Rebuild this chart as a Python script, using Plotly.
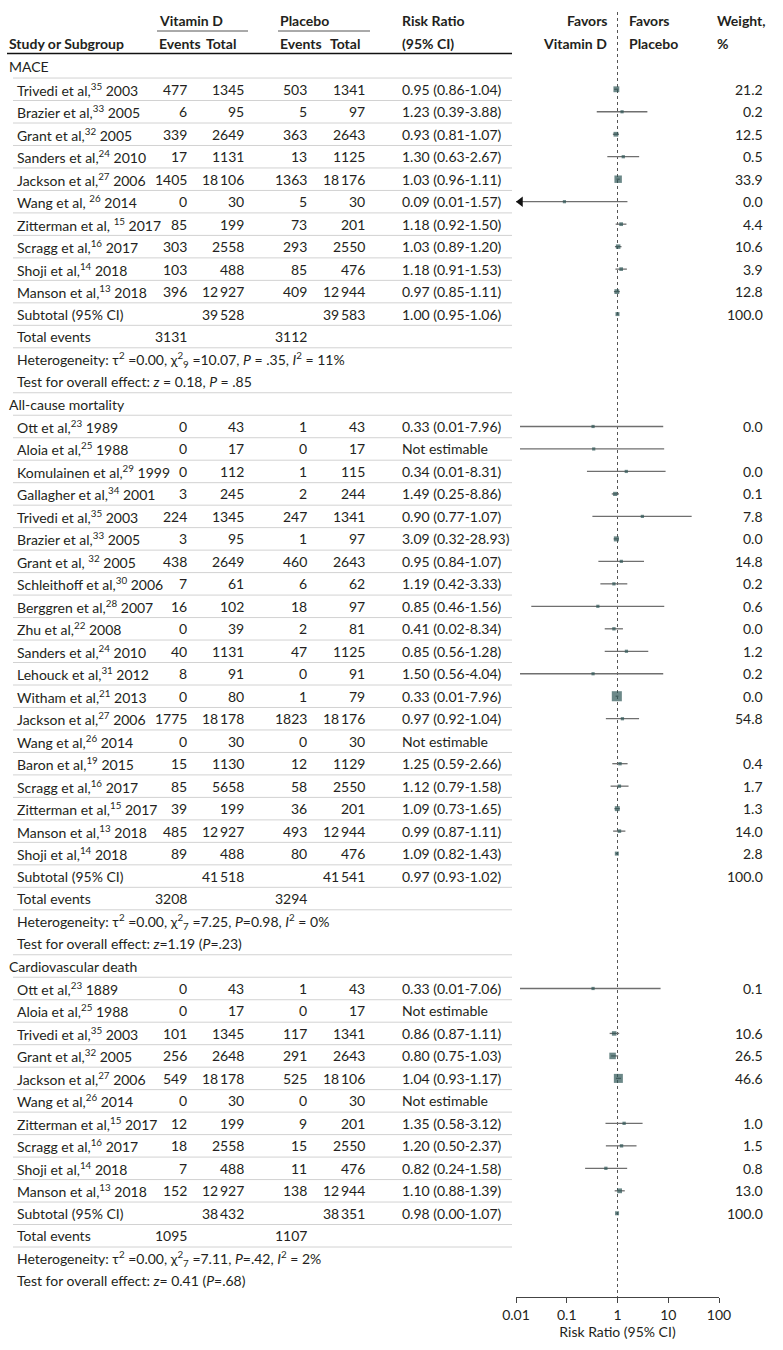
import plotly.graph_objects as go
import math

# ---------------- data ----------------
section_names = ["MACE", "All-cause mortality", "Cardiovascular death"]

# MACE
mace_studies = ["Trivedi et al,<sup>35</sup> 2003", "Brazier et al,<sup>33</sup> 2005",
                "Grant et al,<sup>32</sup> 2005", "Sanders et al,<sup>24</sup> 2010",
                "Jackson et al,<sup>27</sup> 2006", "Wang et al, <sup>26</sup> 2014",
                "Zitterman et al, <sup>15</sup> 2017", "Scragg et al,<sup>16</sup> 2017",
                "Shoji et al,<sup>14</sup> 2018", "Manson et al,<sup>13</sup> 2018"]
mace_vd_events = [477, 6, 339, 17, 1405, 0, 85, 303, 103, 396]
mace_vd_totals = [1345, 95, 2649, 1131, 18106, 30, 199, 2558, 488, 12927]
mace_pl_events = [503, 5, 363, 13, 1363, 5, 73, 293, 85, 409]
mace_pl_totals = [1341, 97, 2643, 1125, 18176, 30, 201, 2550, 476, 12944]
mace_rr_text = ["0.95 (0.86-1.04)", "1.23 (0.39-3.88)", "0.93 (0.81-1.07)", "1.30 (0.63-2.67)",
                "1.03 (0.96-1.11)", "0.09 (0.01-1.57)", "1.18 (0.92-1.50)", "1.03 (0.89-1.20)",
                "1.18 (0.91-1.53)", "0.97 (0.85-1.11)"]
mace_weights = ["21.2", "0.2", "12.5", "0.5", "33.9", "0.0", "4.4", "10.6", "3.9", "12.8"]
mace_subtotal = [39528, 39583, "1.00 (0.95-1.06)", "100.0"]
mace_total_events = [3131, 3112]
mace_heterogeneity = ("Heterogeneity: τ<sup>2</sup> =0.00, χ<sup>2</sup><sub>9</sub> =10.07, "
                      "<i>P</i> = .35, <i>I</i><sup>2</sup> = 11%")
mace_overall = "Test for overall effect: <i>z</i> = 0.18, <i>P</i> = .85"
# markers as drawn in the figure (study rows + subtotal row)
mace_plot_rr = [0.95, 1.23, 0.93, 1.30, 1.03, 0.09, 1.18, 1.03, 1.18, 0.97, 1.00]
mace_plot_lo = [0.86, 0.39, 0.81, 0.63, 0.96, 0.01, 0.92, 0.89, 0.91, 0.85, 0.95]
mace_plot_hi = [1.04, 3.88, 1.07, 2.67, 1.11, 1.57, 1.50, 1.20, 1.53, 1.11, 1.06]
mace_plot_w = [21.2, 0.2, 12.5, 0.5, 33.9, 0.0, 4.4, 10.6, 3.9, 12.8, 100.0]

# All-cause mortality
acm_studies = ["Ott et al,<sup>23</sup> 1989", "Aloia et al,<sup>25</sup> 1988",
               "Komulainen et al,<sup>29</sup> 1999", "Gallagher et al,<sup>34</sup> 2001",
               "Trivedi et al,<sup>35</sup> 2003", "Brazier et al,<sup>33</sup> 2005",
               "Grant et al, <sup>32</sup> 2005", "Schleithoff et al,<sup>30</sup> 2006",
               "Berggren et al,<sup>28</sup> 2007", "Zhu et al,<sup>22</sup> 2008",
               "Sanders et al,<sup>24</sup> 2010", "Lehouck et al,<sup>31</sup> 2012",
               "Witham et al,<sup>21</sup> 2013", "Jackson et al,<sup>27</sup> 2006",
               "Wang et al,<sup>26</sup> 2014", "Baron et al,<sup>19</sup> 2015",
               "Scragg et al,<sup>16</sup> 2017", "Zitterman et al,<sup>15</sup> 2017",
               "Manson et al,<sup>13</sup> 2018", "Shoji et al,<sup>14</sup> 2018"]
acm_vd_events = [0, 0, 0, 3, 224, 3, 438, 7, 16, 0, 40, 8, 0, 1775, 0, 15, 85, 39, 485, 89]
acm_vd_totals = [43, 17, 112, 245, 1345, 95, 2649, 61, 102, 39, 1131, 91, 80, 18178, 30, 1130,
                 5658, 199, 12927, 488]
acm_pl_events = [1, 0, 1, 2, 247, 1, 460, 6, 18, 2, 47, 0, 1, 1823, 0, 12, 58, 36, 493, 80]
acm_pl_totals = [43, 17, 115, 244, 1341, 97, 2643, 62, 97, 81, 1125, 91, 79, 18176, 30, 1129,
                 2550, 201, 12944, 476]
acm_rr_text = ["0.33 (0.01-7.96)", "Not estimable", "0.34 (0.01-8.31)", "1.49 (0.25-8.86)",
               "0.90 (0.77-1.07)", "3.09 (0.32-28.93)", "0.95 (0.84-1.07)", "1.19 (0.42-3.33)",
               "0.85 (0.46-1.56)", "0.41 (0.02-8.34)", "0.85 (0.56-1.28)", "1.50 (0.56-4.04)",
               "0.33 (0.01-7.96)", "0.97 (0.92-1.04)", "Not estimable", "1.25 (0.59-2.66)",
               "1.12 (0.79-1.58)", "1.09 (0.73-1.65)", "0.99 (0.87-1.11)", "1.09 (0.82-1.43)"]
acm_weights = ["0.0", "", "0.0", "0.1", "7.8", "0.0", "14.8", "0.2", "0.6", "0.0", "1.2", "0.2",
               "0.0", "54.8", "", "0.4", "1.7", "1.3", "14.0", "2.8"]
acm_subtotal = [41518, 41541, "0.97 (0.93-1.02)", "100.0"]
acm_total_events = [3208, 3294]
acm_heterogeneity = ("Heterogeneity: τ<sup>2</sup> =0.00, χ<sup>2</sup><sub>7</sub> =7.25, "
                     "<i>P</i>=0.98, <i>I</i><sup>2</sup> = 0%")
acm_overall = "Test for overall effect: <i>z</i>=1.19 (<i>P</i>=.23)"
acm_plot_rr = [0.33, 0.34, 1.49, 0.90, 3.09, 0.95, 1.19, 0.85, 0.41, 0.85, 1.50, 0.33, 0.97,
               1.25, None, 1.12, 1.09, 0.99, 1.09, 0.97, None]
acm_plot_lo = [0.012, 0.012, 0.25, 0.77, 0.32, 0.84, 0.42, 0.46, 0.02, 0.56, 0.56, 0.012, 0.92,
               0.59, None, 0.79, 0.73, 0.87, 0.82, 0.93, None]
acm_plot_hi = [7.96, 8.31, 8.86, 1.07, 28.93, 1.07, 3.33, 1.56, 8.34, 1.28, 4.04, 7.96, 1.04,
               2.66, None, 1.58, 1.65, 1.11, 1.43, 1.02, None]
acm_plot_w = [0.0, 0.0, 0.1, 7.8, 0.0, 14.8, 0.2, 0.6, 0.0, 1.2, 0.2, 0.0, 54.8, 0.4, None,
              1.7, 1.3, 14.0, 2.8, 100.0, None]

# Cardiovascular death
cvd_studies = ["Ott et al,<sup>23</sup> 1889", "Aloia et al,<sup>25</sup> 1988",
               "Trivedi et al,<sup>35</sup> 2003", "Grant et al,<sup>32</sup> 2005",
               "Jackson et al,<sup>27</sup> 2006", "Wang et al,<sup>26</sup> 2014",
               "Zitterman et al,<sup>15</sup> 2017", "Scragg et al,<sup>16</sup> 2017",
               "Shoji et al,<sup>14</sup> 2018", "Manson et al,<sup>13</sup> 2018"]
cvd_vd_events = [0, 0, 101, 256, 549, 0, 12, 18, 7, 152]
cvd_vd_totals = [43, 17, 1345, 2648, 18178, 30, 199, 2558, 488, 12927]
cvd_pl_events = [1, 0, 117, 291, 525, 0, 9, 15, 11, 138]
cvd_pl_totals = [43, 17, 1341, 2643, 18106, 30, 201, 2550, 476, 12944]
cvd_rr_text = ["0.33 (0.01-7.06)", "Not estimable", "0.86 (0.87-1.11)", "0.80 (0.75-1.03)",
               "1.04 (0.93-1.17)", "Not estimable", "1.35 (0.58-3.12)", "1.20 (0.50-2.37)",
               "0.82 (0.24-1.58)", "1.10 (0.88-1.39)"]
cvd_weights = ["0.1", "", "10.6", "26.5", "46.6", "", "1.0", "1.5", "0.8", "13.0"]
cvd_subtotal = [38432, 38351, "0.98 (0.00-1.07)", "100.0"]
cvd_total_events = [1095, 1107]
cvd_heterogeneity = ("Heterogeneity: τ<sup>2</sup> =0.00, χ<sup>2</sup><sub>7</sub> =7.11, "
                     "<i>P</i>=.42, <i>I</i><sup>2</sup> = 2%")
cvd_overall = "Test for overall effect: <i>z</i>= 0.41 (<i>P</i>=.68)"
cvd_plot_rr = [0.33, None, 0.86, 0.80, 1.04, None, 1.35, 1.20, 0.59, 1.10, 0.98]
cvd_plot_lo = [0.012, None, 0.70, 0.75, 0.93, None, 0.58, 0.59, 0.23, 0.88, 0.95]
cvd_plot_hi = [7.06, None, 1.08, 1.03, 1.17, None, 3.12, 2.37, 1.55, 1.39, 1.02]
cvd_plot_w = [0.1, None, 10.6, 26.5, 46.6, None, 1.0, 1.5, 0.8, 13.0, 100.0]

tick_vals = [0.01, 0.1, 1, 10, 100]
tick_text = ["0.01", "0.1", "1", "10", "100"]

# ---------------- layout helpers ----------------
W, H = 783, 1350
ROW0, ROW_H = 66.8, 22.48
FONT = "Lato, Liberation Sans, Arial, sans-serif"
TXT = "#231f20"
FS = 14
AX_L, AX_R, AX_Y = 516, 719, 1297
XMIN, XMAX = -2, 2


def k_of(px):
    return (px - ROW0) / ROW_H


def xp(px):
    return px / W


def fmt(n):
    s = str(n)
    if n >= 10000:
        s = s[:-3] + "\u2009" + s[-3:]
    return s


def box_size(w):
    return 4 if w >= 100 else 3.2 + 0.125 * w


annotations = []
shapes = []


def txt(x_px, k, s, anchor="left", bold=False):
    annotations.append(dict(
        x=xp(x_px), xref="paper", y=k, yref="y", xanchor=anchor, yanchor="middle",
        text=("<b>%s</b>" % s) if bold else s, showarrow=False,
        font=dict(family=FONT, size=FS, color=TXT)))


def hline(k, x0=13, x1=512, color="#d2d2d2", width=1):
    shapes.append(dict(type="line", xref="paper", yref="y", x0=xp(x0), x1=xp(x1),
                       y0=k, y1=k, line=dict(color=color, width=width)))


# header
txt(157, k_of(20), "Vitamin D", bold=True)
txt(278, k_of(20), "Placebo", bold=True)
hline(k_of(31), 157, 248, color="#555", width=1)
hline(k_of(31), 278, 370, color="#555", width=1)
txt(7, k_of(43), "Study or Subgroup", bold=True)
txt(157, k_of(43), "Events", bold=True)
txt(204, k_of(43), "Total", bold=True)
txt(278, k_of(43), "Events", bold=True)
txt(328, k_of(43), "Total", bold=True)
txt(400, k_of(20), "Risk Ratio", bold=True)
txt(400, k_of(43), "(95% CI)", bold=True)
txt(609, k_of(20), "Favors", anchor="right", bold=True)
txt(609, k_of(43), "Vitamin D", anchor="right", bold=True)
txt(627, k_of(20), "Favors", bold=True)
txt(627, k_of(43), "Placebo", bold=True)
txt(715, k_of(20), "Weight,", bold=True)
txt(715, k_of(43), "%", bold=True)
hline(k_of(53.5), 7, 512, color="#111", width=1.6)

sections = [
    (mace_studies, mace_vd_events, mace_vd_totals, mace_pl_events, mace_pl_totals, mace_rr_text,
     mace_weights, mace_subtotal, mace_total_events, mace_heterogeneity, mace_overall,
     mace_plot_rr, mace_plot_lo, mace_plot_hi, mace_plot_w),
    (acm_studies, acm_vd_events, acm_vd_totals, acm_pl_events, acm_pl_totals, acm_rr_text,
     acm_weights, acm_subtotal, acm_total_events, acm_heterogeneity, acm_overall,
     acm_plot_rr, acm_plot_lo, acm_plot_hi, acm_plot_w),
    (cvd_studies, cvd_vd_events, cvd_vd_totals, cvd_pl_events, cvd_pl_totals, cvd_rr_text,
     cvd_weights, cvd_subtotal, cvd_total_events, cvd_heterogeneity, cvd_overall,
     cvd_plot_rr, cvd_plot_lo, cvd_plot_hi, cvd_plot_w),
]

ci_x, ci_y = [], []
mk_x, mk_y, mk_s = [], [], []
arrow_y = []
k = 0
for si, sec in enumerate(sections):
    (studies, ve, vt, pe, pt, rr, wt, sub, tot, het, ovr, prr, plo, phi, pw) = sec
    txt(7, k, section_names[si])
    hline(k + 0.5)
    k += 1
    row_ks = []
    for i, name in enumerate(studies):
        txt(15, k, name)
        txt(189, k, fmt(ve[i]), anchor="right")
        txt(246, k, fmt(vt[i]), anchor="right")
        txt(309, k, fmt(pe[i]), anchor="right")
        txt(367, k, fmt(pt[i]), anchor="right")
        txt(400, k, rr[i])
        if wt[i]:
            txt(765, k, wt[i], anchor="right")
        hline(k + 0.5)
        row_ks.append(k)
        k += 1
    # subtotal
    txt(15, k, "Subtotal (95% CI)")
    txt(246, k, fmt(sub[0]), anchor="right")
    txt(367, k, fmt(sub[1]), anchor="right")
    txt(400, k, sub[2])
    txt(765, k, sub[3], anchor="right")
    hline(k + 0.5)
    row_ks.append(k)
    k += 1
    txt(15, k, "Total events")
    txt(189, k, fmt(tot[0]), anchor="right")
    txt(309, k, fmt(tot[1]), anchor="right")
    hline(k + 0.5)
    k += 1
    txt(15, k, het)
    k += 1
    txt(15, k, ovr)
    if si < len(sections) - 1:
        hline(k + 0.5)
    k += 1
    # plotted marks
    for j, rk in enumerate(row_ks):
        if prr[j] is None:
            continue
        lo = plo[j]
        if lo <= 10 ** XMIN:
            lo = 10 ** XMIN
            arrow_y.append(rk)
        ci_x += [lo, phi[j], None]
        ci_y += [rk, rk, None]
        mk_x.append(prr[j])
        mk_y.append(rk)
        mk_s.append(box_size(pw[j]))

fig = go.Figure()
# line of no effect
fig.add_trace(go.Scatter(x=[1, 1], y=[k_of(12), k_of(AX_Y)], mode="lines",
                         line=dict(color="#555", width=1, dash="dot"), hoverinfo="skip"))
fig.add_trace(go.Scatter(x=ci_x, y=ci_y, mode="lines",
                         line=dict(color="#6f6f6f", width=1.3), hoverinfo="skip"))
fig.add_trace(go.Scatter(x=mk_x, y=mk_y, mode="markers",
                         marker=dict(symbol="square", size=mk_s, color="#2d5656",
                                     line=dict(width=0))))
decade_px = (AX_R - AX_L) / (XMAX - XMIN)
arrow_x = 10 ** (XMIN + 4.5 / decade_px)
fig.add_trace(go.Scatter(x=[arrow_x] * len(arrow_y), y=arrow_y, mode="markers",
                         cliponaxis=False,
                         marker=dict(symbol="triangle-left", size=9, color="#111")))

fig.update_layout(
    template="none",
    width=W, height=H, margin=dict(l=0, r=0, t=0, b=0, pad=0, autoexpand=False),
    paper_bgcolor="white", plot_bgcolor="white", showlegend=False,
    annotations=annotations, shapes=shapes,
    font=dict(family=FONT, size=FS, color=TXT),
    xaxis=dict(type="log", range=[XMIN, XMAX], domain=[xp(AX_L), xp(AX_R)],
               automargin=False,
               showline=True, linecolor="#444", linewidth=1, ticks="outside", ticklen=5,
               tickcolor="#444", tickvals=tick_vals, ticktext=tick_text,
               tickfont=dict(family=FONT, size=FS, color=TXT), showgrid=False, zeroline=False,
               title=dict(text="Risk Ratio (95% CI)", standoff=5,
                          font=dict(family=FONT, size=FS, color=TXT)),
               anchor="y"),
    yaxis=dict(domain=[(H - AX_Y) / H, 1], range=[k_of(AX_Y), k_of(0)], visible=False,
               automargin=False, showgrid=False, zeroline=False),
)

fig.write_html("out.html", config={"displayModeBar": False},
               post_script="document.body.style.margin='0';document.body.style.padding='0';")
